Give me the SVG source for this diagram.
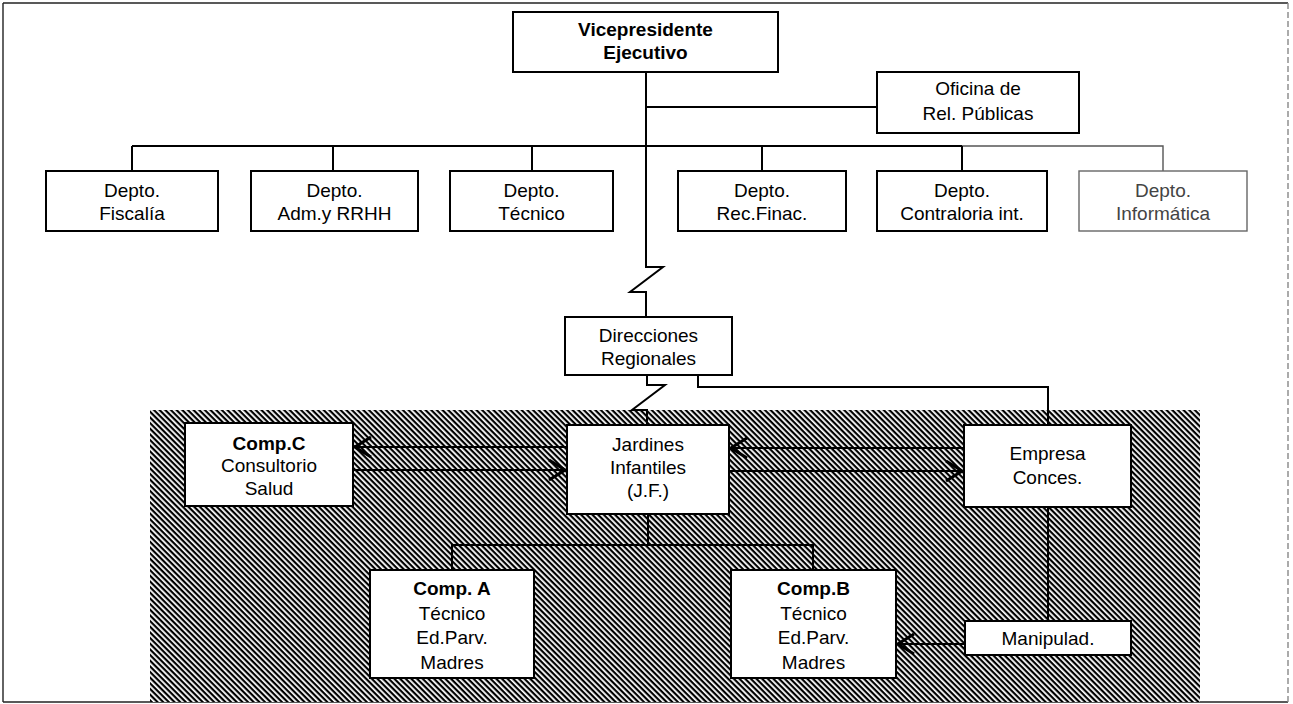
<svg xmlns="http://www.w3.org/2000/svg" width="1293" height="704" viewBox="0 0 1293 704">
<style>
  .box { fill: #fff; stroke: #000; stroke-width: 2; }
  .box-light { fill: #fff; stroke: #666; stroke-width: 1.4; }
  .t { font-family: "Liberation Sans", Arial, sans-serif; font-size: 19px; fill: #000; text-anchor: middle; }
  .b { font-weight: bold; }
  .light { fill: #444; }
  .conn { fill: none; stroke: #000; stroke-width: 2; }
  .conn-light { fill: none; stroke: #555; stroke-width: 1.4; }
  .arrow { fill: none; stroke: #000; stroke-width: 2.2; marker-end: url(#vhead); }
  .frame { fill: none; stroke: #222; stroke-width: 1.4; }
</style>
<defs>
  <pattern id="hatch" width="4" height="4" patternUnits="userSpaceOnUse" patternTransform="rotate(45)">
    <rect width="4" height="4" fill="#fff"/>
    <rect width="4" height="2.2" fill="#000"/>
  </pattern>
  <marker id="vhead" viewBox="0 0 20 26" refX="19" refY="13" markerWidth="20" markerHeight="26" markerUnits="userSpaceOnUse" orient="auto">
    <path d="M3,3 L19,13 L3,23" fill="none" stroke="#000" stroke-width="3"/>
  </marker>
</defs>

<rect width="1293" height="704" fill="#fff"/>

<!-- frame -->
<g id="frame">
  <line class="frame" x1="3" y1="3" x2="1288" y2="3"/>
  <line class="frame" x1="3" y1="3" x2="3" y2="702"/>
  <line class="frame" x1="3" y1="702" x2="1288" y2="702"/>
  <line x1="1288" y1="3" x2="1288" y2="702" stroke="#888" stroke-width="1.4" stroke-dasharray="6 3"/>
</g>

<!-- shaded area -->
<rect id="shaded-area" x="150" y="410" width="1050" height="292" fill="url(#hatch)"/>

<!-- connectors -->
<g id="connectors">
  <path class="conn" d="M646,72 L646,267 L663,267 L630,292 L646,292 L646,317"/>
  <path class="conn" d="M646,107 L877,107"/>
  <path class="conn" d="M132,146 L962,146"/>
  <path class="conn-light" d="M962,146 L1163,146 L1163,171"/>
  <path class="conn" d="M132,146 L132,171"/>
  <path class="conn" d="M333,146 L333,171"/>
  <path class="conn" d="M532,146 L532,171"/>
  <path class="conn" d="M762,146 L762,171"/>
  <path class="conn" d="M962,146 L962,171"/>
  <path class="conn" d="M647,375 L647,385 L665,385 L632,410 L647,410 L647,425"/>
  <path class="conn" d="M698,375 L698,387 L1048,387 L1048,425"/>
  <path class="conn" d="M648,514 L648,545"/>
  <path class="conn" d="M452,570 L452,545 L813,545 L813,570"/>
  <path class="conn" d="M1048,507 L1048,621"/>
  <line class="arrow" x1="567" y1="447" x2="355" y2="447"/>
  <line class="arrow" x1="353" y1="470" x2="565" y2="470"/>
  <line class="arrow" x1="964" y1="448" x2="731" y2="448"/>
  <line class="arrow" x1="729" y1="471" x2="962" y2="471"/>
  <line class="arrow" x1="965" y1="644" x2="898" y2="644"/>
</g>

<!-- nodes -->
<g id="vicepresidente">
  <rect class="box" x="513" y="12" width="265" height="60"/>
  <text class="t b" x="645.5" y="36">Vicepresidente</text>
  <text class="t b" x="645.5" y="59">Ejecutivo</text>
</g>
<g id="oficina">
  <rect class="box" x="877" y="72" width="202" height="61"/>
  <text class="t" x="978" y="95">Oficina de</text>
  <text class="t" x="978" y="120">Rel. Públicas</text>
</g>
<g id="depto-fiscalia">
  <rect class="box" x="46" y="171" width="172" height="60"/>
  <text class="t" x="132" y="197">Depto.</text>
  <text class="t" x="132" y="220">Fiscalía</text>
</g>
<g id="depto-adm">
  <rect class="box" x="251" y="171" width="167" height="60"/>
  <text class="t" x="334.5" y="197">Depto.</text>
  <text class="t" x="334.5" y="220">Adm.y RRHH</text>
</g>
<g id="depto-tecnico">
  <rect class="box" x="450" y="171" width="163" height="60"/>
  <text class="t" x="531.5" y="197">Depto.</text>
  <text class="t" x="531.5" y="220">Técnico</text>
</g>
<g id="depto-recfinac">
  <rect class="box" x="678" y="171" width="168" height="60"/>
  <text class="t" x="762" y="197">Depto.</text>
  <text class="t" x="762" y="220">Rec.Finac.</text>
</g>
<g id="depto-contraloria">
  <rect class="box" x="877" y="171" width="170" height="60"/>
  <text class="t" x="962" y="197">Depto.</text>
  <text class="t" x="962" y="220">Contraloria int.</text>
</g>
<g id="depto-informatica">
  <rect class="box-light" x="1079" y="171" width="168" height="60"/>
  <text class="t light" x="1163" y="197">Depto.</text>
  <text class="t light" x="1163" y="220">Informática</text>
</g>
<g id="direcciones">
  <rect class="box" x="565" y="317" width="167" height="58"/>
  <text class="t" x="648.5" y="342">Direcciones</text>
  <text class="t" x="648.5" y="365">Regionales</text>
</g>
<g id="comp-c">
  <rect class="box" x="185" y="423" width="168" height="83"/>
  <text class="t b" x="269" y="450">Comp.C</text>
  <text class="t" x="269" y="472">Consultorio</text>
  <text class="t" x="269" y="495">Salud</text>
</g>
<g id="jardines">
  <rect class="box" x="567" y="425" width="162" height="89"/>
  <text class="t" x="648" y="451">Jardines</text>
  <text class="t" x="648" y="474">Infantiles</text>
  <text class="t" x="648" y="497">(J.F.)</text>
</g>
<g id="empresa">
  <rect class="box" x="964" y="425" width="167" height="82"/>
  <text class="t" x="1047.5" y="460">Empresa</text>
  <text class="t" x="1047.5" y="484">Conces.</text>
</g>
<g id="comp-a">
  <rect class="box" x="370" y="570" width="164" height="108"/>
  <text class="t b" x="452" y="595">Comp. A</text>
  <text class="t" x="452" y="620">Técnico</text>
  <text class="t" x="452" y="644">Ed.Parv.</text>
  <text class="t" x="452" y="669">Madres</text>
</g>
<g id="comp-b">
  <rect class="box" x="731" y="570" width="165" height="108"/>
  <text class="t b" x="813.5" y="595">Comp.B</text>
  <text class="t" x="813.5" y="620">Técnico</text>
  <text class="t" x="813.5" y="644">Ed.Parv.</text>
  <text class="t" x="813.5" y="669">Madres</text>
</g>
<g id="manipulad">
  <rect class="box" x="965" y="621" width="166" height="34"/>
  <text class="t" x="1048" y="645">Manipulad.</text>
</g>
</svg>
